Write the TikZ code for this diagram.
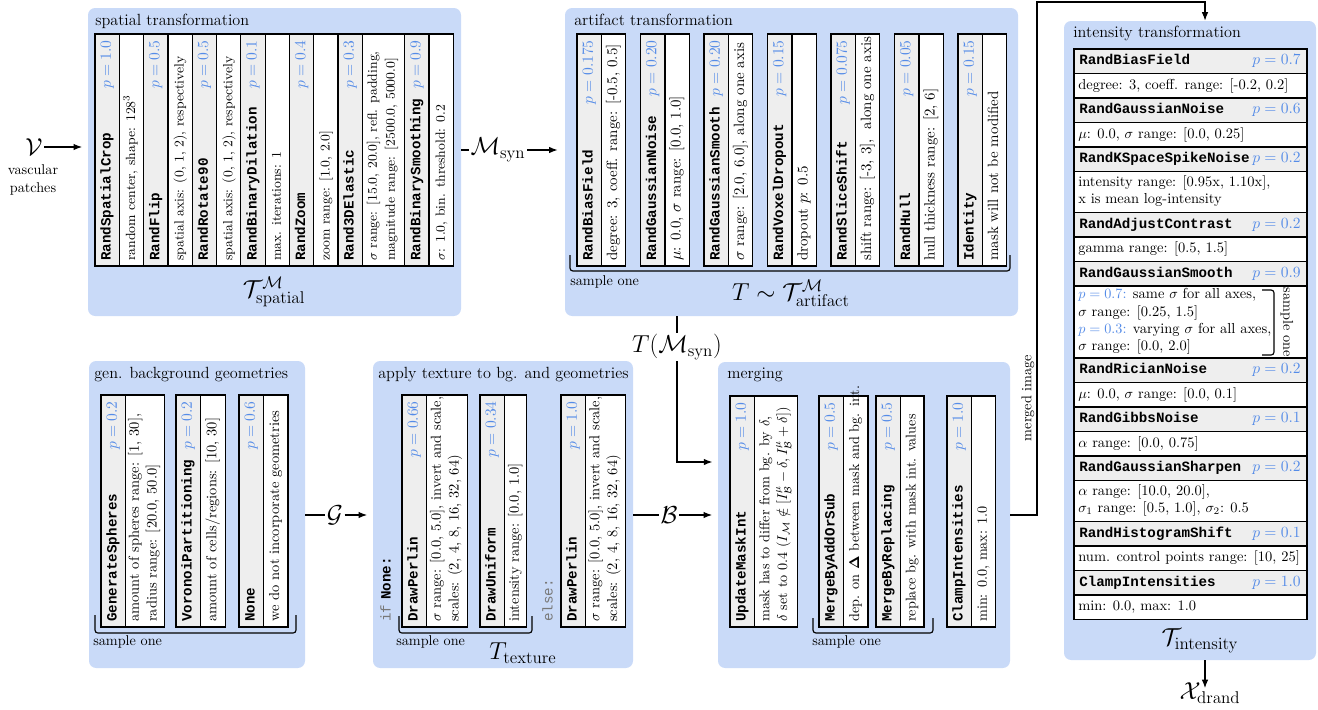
\documentclass[tikz,border=0pt]{standalone}
\usepackage[no-math]{fontspec}
\newfontfamily\codefont{Liberation Mono}
\usetikzlibrary{arrows.meta,fit}
\definecolor{panelblue}{RGB}{201,218,248}
\definecolor{pblue}{RGB}{85,140,232}
\definecolor{cellgray}{RGB}{238,238,238}
\definecolor{kwgray}{RGB}{120,120,120}
\def\dfnt{\fontsize{10.3}{12.5}\selectfont}
\tikzset{
  panel/.style={fill=panelblue, draw=none, rounded corners=5pt, inner sep=0pt},
  gcell/.style={fill=cellgray, draw=black, line width=0.9pt},
  wcell/.style={fill=white, draw=black, line width=0.9pt},
  txt/.style={inner sep=0pt, font=\fontsize{10}{12.4}\selectfont},
  vbase/.style={txt, rotate=90, align=left, execute at begin node=\strut, execute at end node=\strut},
  vname/.style={vbase, anchor=west, font=\fontsize{10}{12.4}\selectfont\codefont\bfseries},
  vp/.style={vbase, anchor=east, text=pblue, font=\fontsize{11}{13}\selectfont},
  vdesc/.style={vbase, anchor=west, font=\dfnt},
  hname/.style={txt, anchor=west, font=\fontsize{10}{12.4}\selectfont\codefont\bfseries, execute at begin node=\strut},
  hp/.style={txt, anchor=east, text=pblue, font=\fontsize{11}{13}\selectfont, execute at begin node=\strut},
  hdesctxt/.style={txt, anchor=west, align=left, font=\dfnt, execute at begin node=\strut, execute at end node=\strut},
  paneltitle/.style={txt, anchor=base west, font=\fontsize{11.4}{13.6}\selectfont},
  biglabel/.style={inner sep=1pt, font=\LARGE},
  smalltxt/.style={txt, anchor=base west},
  sbracket/.style={line width=0.8pt, rounded corners=2pt},
  conn/.style={line width=0.8pt},
  arr/.style={conn, -{Latex[length=6pt,width=4.6pt]}},
}
% vertical item: id, x, ytop, ybot, desc width, name, p, desc
\newcommand\vitm[8]{%
  \draw[gcell] (#2,#3) rectangle ({#2+24.4},#4);
  \draw[wcell] ({#2+24.4},#3) rectangle ({#2+24.4+#5},#4);
  \node[vname] (#1-n) at ({#2+12.2},{#4-5}) {#6};
  \node[vp] (#1-p) at ({#2+12.2},{#3+6}) {$p=#7$};
  \node[vdesc] (#1-d) at ({#2+24.4+#5/2},{#4-5}) {#8};
}
% intensity header row: id, ytop, name, p
\newcommand\ihead[4]{%
  \draw[gcell] (1074,#2) rectangle (1307,{#2+24.5});
  \node[hname] (#1-n) at (1079,{#2+12.25}) {#3};
  \node[hp] (#1-p) at (1301,{#2+12.25}) {$p=#4$};
}
% intensity description row: id, ytop, ybot, text
\newcommand\idesc[4]{%
  \draw[wcell] (1074,#2) rectangle (1307,#3);
  \node[hdesctxt] (#1-d) at (1078,{(#2+#3)/2}) {#4};
}
\begin{document}
\begin{tikzpicture}[x=0.704pt, y=-0.704pt]
\useasboundingbox (0,0) rectangle (1318,709);

% panels
\node[panel, fit={(88,8) (461,316)}] (sp) {};
\node[panel, fit={(565,8) (1018,316)}] (art) {};
\node[panel, fit={(1064,21) (1316,660)}] (int) {};
\node[panel, fit={(89,361) (305,668)}] (gen) {};
\node[panel, fit={(373,361) (633,668)}] (tex) {};
\node[panel, fit={(718,362) (1010,668)}] (mrg) {};

% titles
\node[paneltitle] (sp-t) at (95,25) {spatial transformation};
\node[paneltitle] (art-t) at (574,25) {artifact transformation};
\node[paneltitle] (int-t) at (1073,37) {intensity transformation};
\node[paneltitle] (gen-t) at (94,378) {gen. background geometries};
\node[paneltitle] (tex-t) at (378,378) {apply texture to bg. and geometries};
\node[paneltitle] (mrg-t) at (727,378) {merging};

% spatial
\def\dfnt{\fontsize{9.4}{12.6}\selectfont}
\vitm{s1}{95}{34}{266}{24.3}{RandSpatialCrop}{1.0}{random center, shape: 128$^3$}
\vitm{s2}{143.6}{34}{266}{24.3}{RandFlip}{0.5}{spatial axis: (0, 1, 2), respectively}
\vitm{s3}{192.2}{34}{266}{24.3}{RandRotate90}{0.5}{spatial axis: (0, 1, 2), respectively}
\vitm{s4}{240.8}{34}{266}{24.3}{RandBinaryDilation}{0.1}{max. iterations: 1}
\vitm{s5}{289.4}{34}{266}{24.3}{RandZoom}{0.4}{zoom range: [1.0, 2.0]}
\vitm{s6}{338}{34}{266}{42.4}{Rand3DElastic}{0.3}{$\sigma$ range: [15.0, 20.0], refl. padding,\\magnitude range: [2500.0, 5000.0]}
\vitm{s7}{404.7}{34}{266}{24.3}{RandBinarySmoothing}{0.9}{$\sigma$: 1.0, bin. threshold: 0.2}
\node[biglabel] (sp-l) at (274,292) {$\mathcal{T}^{\mathcal{M}}_{\mathrm{spatial}}$};

% artifact
\def\dfnt{\fontsize{10.5}{12.5}\selectfont}
\vitm{a1}{577}{34}{266}{24.4}{RandBiasField}{0.175}{degree: 3, coeff. range: [-0.5, 0.5]}
\vitm{a2}{640.5}{34}{266}{24.4}{RandGaussianNoise}{0.20}{$\mu$: 0.0, $\sigma$ range: [0.0, 1.0]}
\vitm{a3}{704}{34}{266}{24.4}{RandGaussianSmooth}{0.20}{$\sigma$ range: [2.0, 6.0], along one axis}
\vitm{a4}{767.5}{34}{266}{24.4}{RandVoxelDropout}{0.15}{dropout $p$: 0.5}
\vitm{a5}{831}{34}{266}{24.4}{RandSliceShift}{0.075}{shift range: [-3, 3], \ along one axis}
\vitm{a6}{894.5}{34}{266}{24.4}{RandHull}{0.05}{hull thickness range: [2, 6]}
\vitm{a7}{958}{34}{266}{24.4}{Identity}{0.15}{mask will not be modified}
\draw[sbracket] (570,255) -- (570,271) -- (1010,271) -- (1010,255);
\node[smalltxt] (art-s) at (570,285) {sample one};
\node[biglabel] (art-l) at (791,293) {$T\sim\mathcal{T}^{\mathcal{M}}_{\mathrm{artifact}}$};

% background geometries
\def\dfnt{\fontsize{10.2}{12.5}\selectfont}
\vitm{g1}{101}{395}{627}{39}{GenerateSpheres}{0.2}{amount of spheres range: [1, 30],\\radius range: [20.0, 50.0]}
\vitm{g2}{176}{395}{627}{25}{VoronoiPartitioning}{0.2}{amount of cells/regions: [10, 30]}
\vitm{g3}{239}{395}{627}{24.5}{None}{0.6}{we do not incorporate geometries}
\draw[sbracket] (95,615) -- (95,633) -- (296,633) -- (296,615);
\node[smalltxt] (gen-s) at (93,645) {sample one};

% texture
\vitm{t1}{402}{395}{627}{41}{DrawPerlin}{0.66}{$\sigma$ range: [0.0, 5.0], invert and scale,\\scales: (2, 4, 8, 16, 32, 64)}
\vitm{t2}{480}{395}{627}{22}{DrawUniform}{0.34}{intensity range: [0.0, 1.0]}
\vitm{t3}{561}{395}{627}{40}{DrawPerlin}{1.0}{$\sigma$ range: [0.0, 5.0], invert and scale,\\scales: (2, 4, 8, 16, 32, 64)}
\node[vbase, anchor=west] (ifn) at (387,622) {{\codefont\color{kwgray}if} {\codefont\bfseries None:}};
\node[vbase, anchor=west, text=kwgray] (els) at (549,622) {\codefont else:};
\draw[sbracket] (399,616) -- (399,633) -- (532,633) -- (532,616);
\node[smalltxt] (tex-s) at (396,645) {sample one};
\node[biglabel] (tex-l) at (523,653) {$T_{\mathrm{texture}}$};

% merging
\def\dfnt{\fontsize{10}{12.5}\selectfont}
\vitm{m1}{730}{396}{627}{43}{UpdateMaskInt}{1.0}{mask has to differ from bg. by $\delta$,\\$\delta$ set to $0.4$ ($I_{\mathcal{M}}\notin[I^{\mu}_{\mathcal{B}}-\delta, I^{\mu}_{\mathcal{B}}+\delta]$)}
\vitm{m2}{819}{396}{627}{24.5}{MergeByAddOrSub}{0.5}{dep. on $\mathbf{\Delta}$ between mask and bg. int.}
\vitm{m3}{876}{396}{627}{23.5}{MergeByReplacing}{0.5}{replace bg. with mask int. values}
\vitm{m4}{947}{396}{627}{24}{ClampIntensities}{1.0}{min: 0.0, max: 1.0}
\draw[sbracket] (813,618) -- (813,633) -- (933,633) -- (933,618);
\node[smalltxt] (mrg-s) at (812,645) {sample one};

% intensity
\def\dfnt{\fontsize{10.2}{12}\selectfont}
\ihead{i1}{49}{RandBiasField}{0.7}
\idesc{i1}{73.5}{98}{degree: 3, coeff. range: [-0.2, 0.2]}
\ihead{i2}{98}{RandGaussianNoise}{0.6}
\idesc{i2}{122.5}{147}{$\mu$: 0.0, $\sigma$ range: [0.0, 0.25]}
\ihead{i3}{147}{RandKSpaceSpikeNoise}{0.2}
\idesc{i3}{171.5}{212.5}{intensity range: [0.95x, 1.10x],\\x is mean log-intensity}
\ihead{i4}{212.5}{RandAdjustContrast}{0.2}
\idesc{i4}{237}{261.5}{gamma range: [0.5, 1.5]}
\ihead{i5}{261.5}{RandGaussianSmooth}{0.9}
\idesc{i5}{286}{358}{\textcolor{pblue}{$p=0.7$:} same $\sigma$ for all axes,\\$\sigma$ range: [0.25, 1.5]\\\textcolor{pblue}{$p=0.3$:} varying $\sigma$ for all axes,\\$\sigma$ range: [0.0, 2.0]}
\draw[sbracket] (1262,290) -- (1274,290) -- (1274,355) -- (1262,355);
\node[txt, rotate=-90] (i5-s) at (1287,322) {sample one};
\ihead{i6}{358}{RandRicianNoise}{0.2}
\idesc{i6}{382.5}{407}{$\mu$: 0.0, $\sigma$ range: [0.0, 0.1]}
\ihead{i7}{407}{RandGibbsNoise}{0.1}
\idesc{i7}{431.5}{456}{$\alpha$ range: [0.0, 0.75]}
\ihead{i8}{456}{RandGaussianSharpen}{0.2}
\idesc{i8}{480.5}{521.5}{$\alpha$ range: [10.0, 20.0],\\$\sigma_1$ range: [0.5, 1.0], $\sigma_2$: 0.5}
\ihead{i9}{521.5}{RandHistogramShift}{0.1}
\idesc{i9}{546}{570.5}{num. control points range: [10, 25]}
\ihead{i10}{570.5}{ClampIntensities}{1.0}
\idesc{i10}{595}{619.5}{min: 0.0, max: 1.0}
\node[biglabel] (int-l) at (1200,641) {$\mathcal{T}_{\mathrm{intensity}}$};

% input
\node[biglabel] (vin) at (34,147) {$\mathcal{V}$};
\node[txt, align=center] (vlab) at (33,180) {vascular\\patches};
\draw[arr, shorten >=4pt] (vin.east) -- (vin.east -| sp.west);

% spatial -> artifact
\node[biglabel] (msyn) at (498,150) {$\mathcal{M}_{\mathrm{syn}}$};
\draw[conn] (msyn.west -| sp.east) -- (msyn.west);
\draw[arr, shorten >=5pt] (msyn.east) -- (msyn.east -| art.west);

% artifact -> merging
\node[biglabel] (tm) at (677,347) {$T(\mathcal{M}_{\mathrm{syn}})$};
\draw[conn] (tm.north |- art.south) -- (tm.north);
\coordinate (mrgin) at (718,462);
\draw[arr, shorten >=4pt] (tm.south) |- (mrgin);

% geometries -> texture -> merging
\node[biglabel] (gg) at (335,515) {$\mathcal{G}$};
\draw[conn] (gen.east |- gg.west) -- (gg.west);
\draw[arr, shorten >=4pt] (gg.east) -- (gg.east -| tex.west);
\node[biglabel] (bb) at (669,515) {$\mathcal{B}$};
\draw[conn] (tex.east |- bb.west) -- (bb.west);
\draw[arr, shorten >=4pt] (bb.east) -- (bb.east -| mrg.west);

% merging -> intensity
\coordinate (mtop) at (1205,2);
\draw[arr] (mrg.east) -| (1037,2) -- (mtop) -- (mtop |- int.north);
\node[txt, rotate=90] (mlab) at (1028,398) {merged image};

% output
\node[biglabel] (xd) at (1210,693) {$\mathcal{X}_{\mathrm{drand}}$};
\draw[arr, shorten >=-5pt] (int.south -| mtop) -- (xd.north -| mtop);
\end{tikzpicture}
\end{document}
